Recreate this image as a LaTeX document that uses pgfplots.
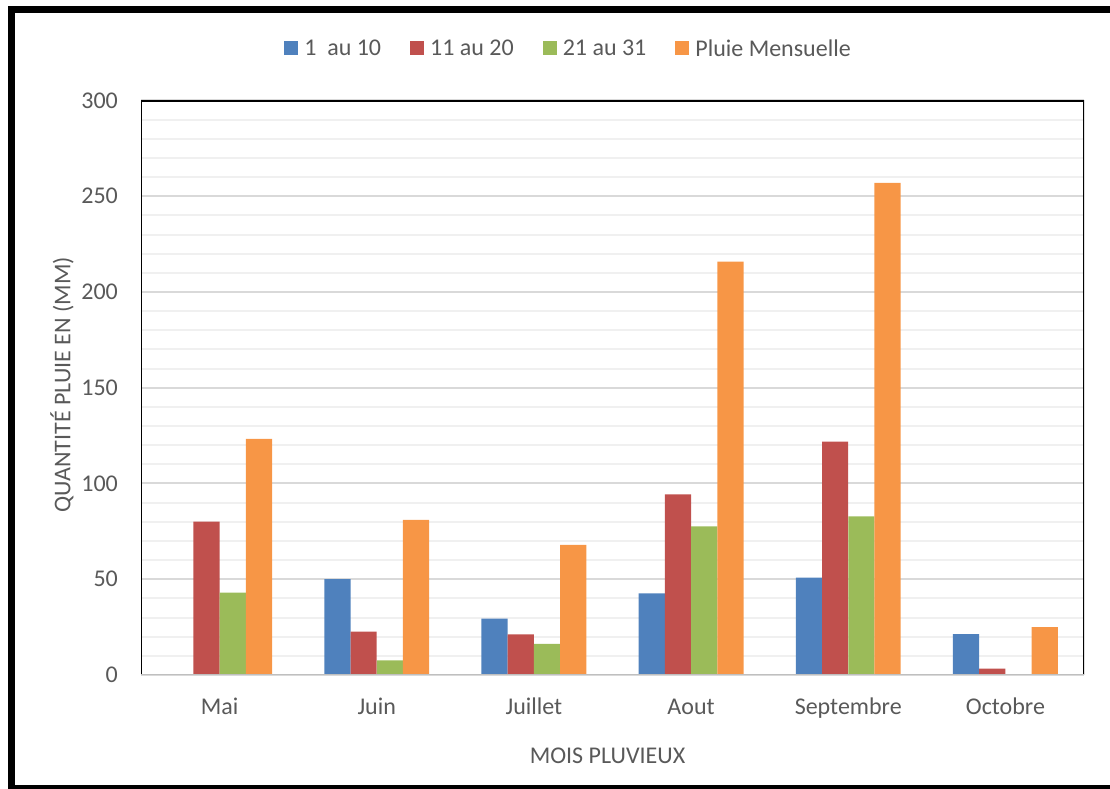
\documentclass[border=0pt]{standalone}
\usepackage{fontspec}
\setmainfont{Carlito}
\usepackage{pgfplots}
\usepackage{pgfplotstable}
\pgfplotsset{compat=1.18}

\definecolor{serBlue}{HTML}{4F81BD}
\definecolor{serRed}{HTML}{C0504D}
\definecolor{serGreen}{HTML}{9BBB59}
\definecolor{serOrange}{HTML}{F79646}
\definecolor{txtGray}{HTML}{595959}
\definecolor{gridMajor}{HTML}{D9D9D9}
\definecolor{gridMinor}{HTML}{F0F0F0}
\definecolor{baseGray}{HTML}{BFBFBF}

% rainfall (mm) per decade of the month, months at x = 0..5
\pgfplotstableread{
x  d1    d2     d3    tot
0  0     80.1   43.0  123.3
1  50.0  22.6   7.7   81.0
2  29.4  21.2   16.3  68.0
3  42.6  94.3   77.6  215.8
4  50.8  121.9  82.8  257.0
5  21.3  3.3    0     25.0
}\pluie

% small filled square as legend key
\pgfplotsset{sqlegend/.style={legend image code/.code={%
  \fill[##1] (0bp,-2.5bp) rectangle (7bp,4.5bp);}}}

\begin{document}
\fontsize{12bp}{14bp}\selectfont
\begin{tikzpicture}
\useasboundingbox (0,0) rectangle (555bp,394.5bp);
% chart frame
\draw[black, line width=3.5bp] (5.85bp,389.75bp) rectangle (564bp,0.25bp);
\begin{axis}[
  at={(70.5bp,57bp)}, anchor=south west,
  scale only axis, width=471.5bp, height=287.25bp,
  xmin=-0.5, xmax=5.5, ymin=0, ymax=300,
  xtick={0,...,5},
  xticklabels={Mai,Juin,Juillet,Aout,Septembre,Octobre},
  ytick={0,50,...,300},
  minor y tick num=4,
  ymajorgrids, yminorgrids,
  major grid style={gridMajor, line width=1bp},
  minor grid style={gridMinor, line width=1bp},
  major tick length=0pt, minor tick length=0pt,
  axis line style={draw=none},
  tick label style={text=txtGray, font=\fontsize{12bp}{14bp}\selectfont},
  /pgf/number format/assume math mode=true,
  yticklabel style={anchor=east, inner sep=0pt, xshift=-11.35bp},
  xticklabel style={anchor=base, inner sep=0pt, yshift=-19.5bp},
  xlabel={MOIS PLUVIEUX},
  ylabel={QUANTITÉ PLUIE EN (MM)},
  label style={text=txtGray, font=\fontsize{12bp}{14bp}\selectfont, inner sep=0pt},
  xlabel style={at={(axis description cs:0.4947,-0.1405)}, anchor=center},
  ylabel style={at={(axis description cs:-0.0838,0.505)}, anchor=center},
  legend columns=4,
  legend style={draw=none, fill=none,
    at={(axis description cs:0.4523,1.0885)}, anchor=center,
    font=\fontsize{12bp}{14bp}\selectfont, text=txtGray,
    nodes={inner sep=0pt},
    /tikz/every odd column/.append style={column sep=3bp},
    /tikz/every even column/.append style={column sep=14.5bp}},
  legend cell align=left,
]
\addplot[ybar, bar width=13.1bp, bar shift=-19.67bp, fill=serBlue, draw=none, sqlegend]
  table[x=x, y=d1] {\pluie};
\addlegendentry{1\ \ au 10}
\addplot[ybar, bar width=13.1bp, bar shift=-6.56bp, fill=serRed, draw=none, sqlegend]
  table[x=x, y=d2] {\pluie};
\addlegendentry{11 au 20}
\addplot[ybar, bar width=13.1bp, bar shift=6.56bp, fill=serGreen, draw=none, sqlegend]
  table[x=x, y=d3] {\pluie};
\addlegendentry{21 au 31}
\addplot[ybar, bar width=13.1bp, bar shift=19.67bp, fill=serOrange, draw=none, sqlegend]
  table[x=x, y=tot] {\pluie};
\addlegendentry{Pluie Mensuelle}
% plot area border: black on three sides, grey base line
\draw[black, line width=1.1bp] (rel axis cs:0,0) -- (rel axis cs:0,1) -- (rel axis cs:1,1) -- (rel axis cs:1,0);
\draw[baseGray, line width=1.5bp] (rel axis cs:0,0) -- (rel axis cs:1,0);
\end{axis}
\end{tikzpicture}
\end{document}
